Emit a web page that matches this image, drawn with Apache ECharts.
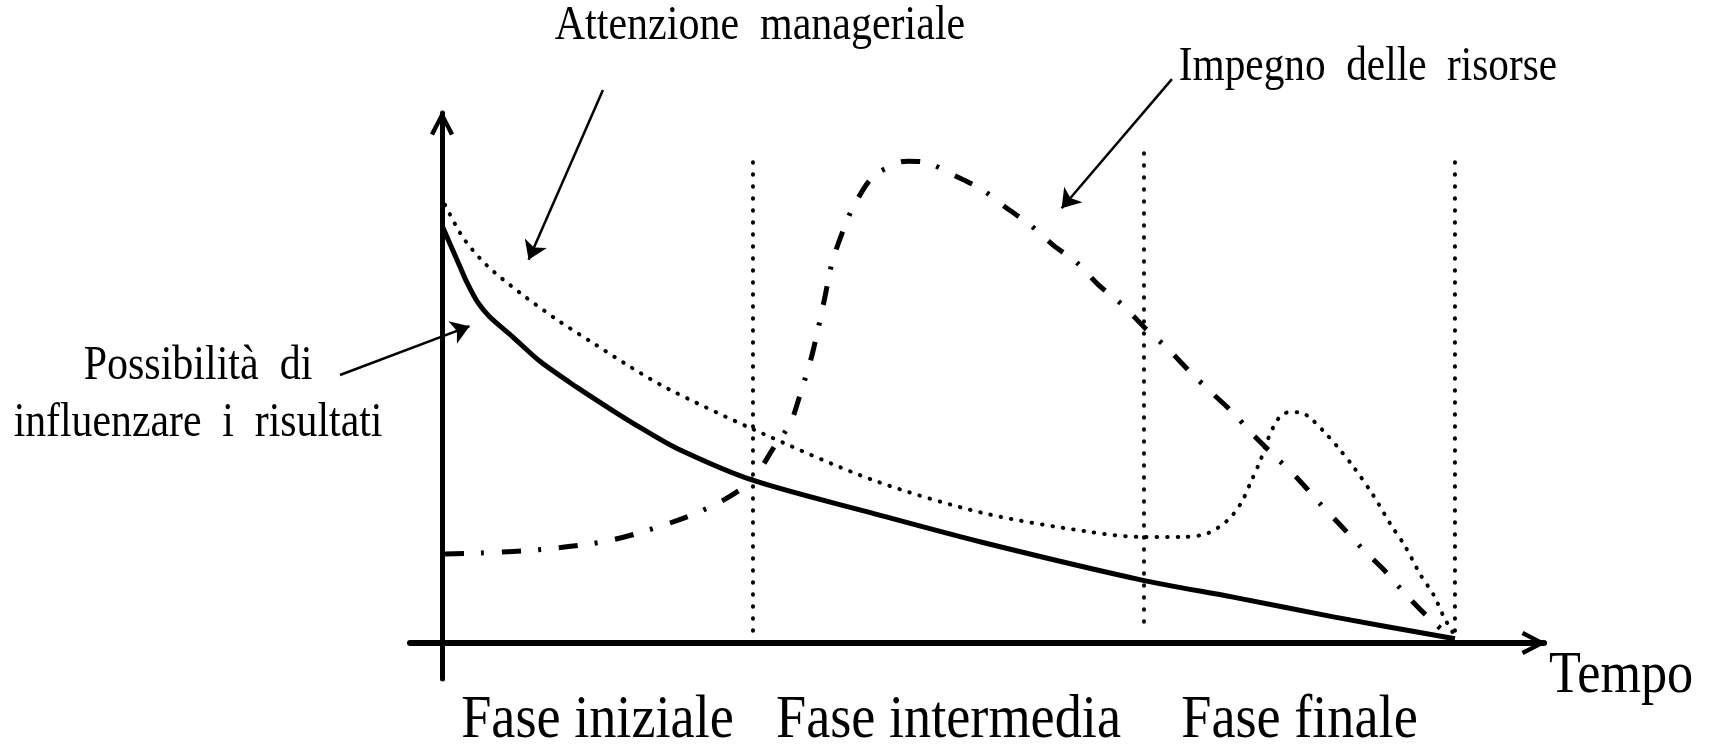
<!DOCTYPE html>
<html>
<head>
<meta charset="utf-8">
<title>Fasi del progetto</title>
<script src="https://cdn.jsdelivr.net/npm/echarts@6/dist/echarts.min.js"></script>
<style>
  html, body { margin: 0; padding: 0; background: #ffffff; }
  #main { width: 1710px; height: 750px; }
</style>
</head>
<body>
<div id="main"></div>
<script>
// tempo (0-100) e livello relativo (0-100)
const possibilitaX = [0.1, 1.8, 2.5, 3.5, 4.7, 7.0, 9.7, 13.3, 16.7, 19.5, 23.1, 30.6, 42.4, 53.3, 69.1, 78.1, 88.0, 100];
const possibilitaY = [77.9, 70.5, 67.5, 64.0, 61.2, 57.4, 52.8, 48.0, 43.8, 40.5, 36.6, 30.6, 24.4, 18.9, 11.8, 8.6, 4.9, 0.8];

const attenzioneX = [0.3, 2.1, 4.4, 7.7, 11.4, 14.9, 18.6, 22.2, 30.6, 42.5, 53.4, 64.1, 69.2, 73.2, 75.6, 77.6, 78.9, 79.8, 80.8, 81.5, 82.6, 83.6, 84.6, 85.6, 87.1, 88.5, 90.0, 91.9, 93.7, 95.0, 96.6, 97.9, 98.9, 99.8];
const attenzioneY = [82.2, 76.0, 70.9, 65.7, 60.6, 56.3, 51.8, 47.8, 40.2, 30.6, 24.4, 20.8, 19.9, 19.9, 20.6, 23.1, 26.3, 30.0, 34.3, 38.1, 42.2, 43.3, 43.3, 42.4, 39.6, 36.6, 33.0, 27.8, 22.1, 18.4, 12.8, 9.0, 4.9, 1.9];

const impegnoX = [0.3, 3.8, 10.2, 16.7, 23.1, 27.5, 30.6, 32.8, 34.4, 35.4, 36.4, 37.1, 37.8, 38.5, 39.5, 40.6, 42.5, 45.0, 46.0, 47.9, 50.5, 53.2, 55.6, 58.1, 60.3, 62.7, 64.8, 67.2, 69.3, 71.6, 73.9, 75.9, 78.1, 80.1, 82.3, 84.6, 86.6, 88.7, 91.0, 93.0, 95.0, 97.1, 99.3];
const impegnoY = [16.7, 16.9, 17.6, 19.3, 22.9, 26.5, 30.6, 36.8, 41.3, 46.9, 53.1, 58.7, 64.9, 71.3, 76.9, 81.8, 87.4, 90.1, 90.4, 90.1, 87.8, 85.2, 81.8, 78.4, 74.7, 71.3, 67.2, 63.4, 59.3, 55.3, 50.8, 47.1, 43.2, 39.0, 34.9, 30.6, 26.3, 22.1, 17.4, 13.7, 9.4, 5.3, 1.5];

// fasi
const phaseLabels = ['Fase iniziale', 'Fase intermedia', 'Fase finale'];
const phaseBounds = [0, 30.7, 69.3, 100];
const dividerX = [30.7, 69.3, 100];
const dividerTop = [90.2, 91.9, 90.2];
const dividerBottom = [1.3, 3.2, 0.6];

// frecce di annotazione: [partenza, punta]
const arrowLinks = [
    [[15.89, 103.75], [8.55, 71.9]],
    [[72.06, 105.8], [61.17, 81.57]],
    [[-10.07, 50.28], [2.72, 59.44]]
];

const pairs = (xs, ys) => xs.map((x, i) => [x, ys[i]]);

const chevron = 'path://M12,0 L24,23 L20,25 L12,9 L4,25 L0,23 Z';
const serif = '"Liberation Serif", "Times New Roman", serif';

const chart = echarts.init(document.getElementById('main'), null, { renderer: 'canvas' });

const dividerSeries = dividerX.map((x, i) => ({
    type: 'line',
    data: [[x, dividerTop[i]], [x, dividerBottom[i]]],
    symbol: 'none',
    silent: true,
    z: 1,
    lineStyle: { color: '#000', width: 4, type: [0.5, 11.5], cap: 'round' }
}));

chart.setOption({
    animation: false,
    backgroundColor: '#ffffff',
    grid: { left: 410, right: 166, top: 113, bottom: 71 },
    xAxis: {
        type: 'value',
        min: -3.159,
        max: 108.79,
        axisLine: {
            onZero: true,
            lineStyle: { color: '#000', width: 6 },
            symbol: ['none', chevron],
            symbolSize: [24, 25],
            symbolOffset: [0, -10]
        },
        axisTick: { show: false },
        axisLabel: { show: false },
        splitLine: { show: false }
    },
    yAxis: {
        type: 'value',
        min: -6.754,
        max: 99.44,
        axisLine: {
            onZero: true,
            lineStyle: { color: '#000', width: 5 },
            symbol: ['none', chevron],
            symbolSize: [24, 25],
            symbolOffset: [0, -10]
        },
        axisTick: { show: false },
        axisLabel: { show: false },
        splitLine: { show: false }
    },
    series: [
        ...dividerSeries,
        {
            name: 'Possibilità di influenzare i risultati',
            type: 'line',
            data: pairs(possibilitaX, possibilitaY),
            symbol: 'none',
            smooth: 0.3,
            z: 3,
            lineStyle: { color: '#000', width: 5 }
        },
        {
            name: 'Attenzione manageriale',
            type: 'line',
            data: pairs(attenzioneX, attenzioneY),
            symbol: 'none',
            smooth: 0.3,
            z: 2,
            lineStyle: { color: '#000', width: 4, type: [0.5, 10], cap: 'round' }
        },
        {
            name: 'Impegno delle risorse',
            type: 'line',
            data: pairs(impegnoX, impegnoY),
            symbol: 'none',
            smooth: 0.3,
            z: 2,
            lineStyle: { color: '#000', width: 5, type: [19, 17, 3, 18] }
        },
        {
            type: 'lines',
            coordinateSystem: 'cartesian2d',
            clip: false,
            silent: true,
            symbol: ['none', 'arrow'],
            symbolSize: 18,
            z: 4,
            lineStyle: { color: '#000', width: 2.5, opacity: 1 },
            data: arrowLinks.map(c => ({ coords: c }))
        }
    ]
});

const textEl = (text, x, y, size, sx, align) => ({
    type: 'text',
    x: x,
    y: y,
    scaleX: sx,
    silent: true,
    style: {
        text: text,
        fill: '#000',
        font: size + 'px ' + serif,
        align: align || 'center',
        verticalAlign: 'middle'
    }
});

const phaseGraphics = phaseLabels.map((name, i) => {
    const mid = (phaseBounds[i] + phaseBounds[i + 1]) / 2;
    const px = chart.convertToPixel({ gridIndex: 0 }, [mid, 0]);
    return textEl(name, px[0], 721, 62, 0.875);
});

chart.setOption({
    graphic: [
        textEl('Attenzione  manageriale', 760, 26, 48, 0.875),
        textEl('Impegno  delle  risorse', 1368, 67, 48, 0.86),
        textEl('Possibilità  di', 198, 366, 48, 0.875),
        textEl('influenzare  i  risultati', 198, 423, 48, 0.87),
        textEl('Tempo', 1549, 676, 60, 0.87, 'left'),
        ...phaseGraphics
    ]
});
</script>
</body>
</html>
